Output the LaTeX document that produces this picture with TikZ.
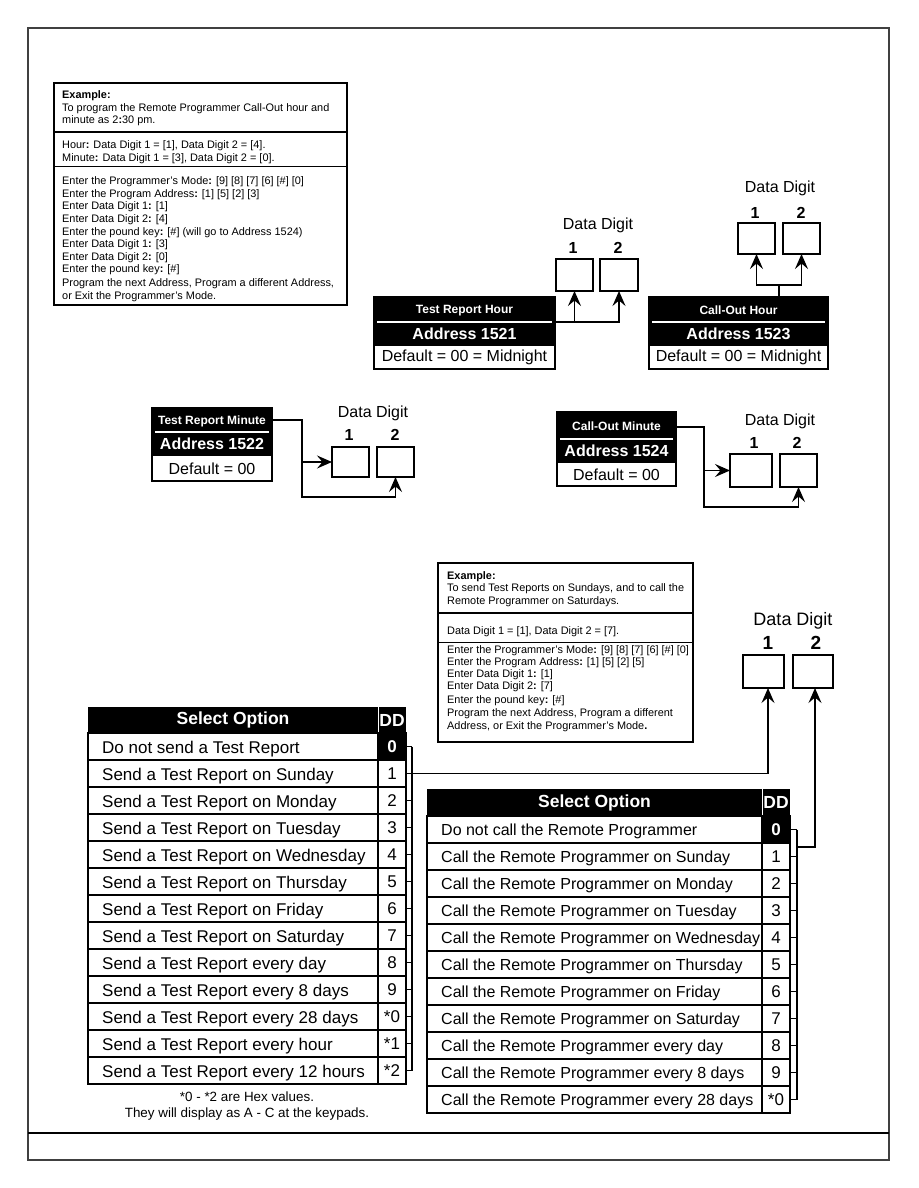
\documentclass[tikz,border=0pt]{standalone}
\usepackage{fontspec}
\setmainfont{Liberation Sans}
\usetikzlibrary{arrows.meta,positioning,calc}
\newcommand{\bc}{\textbf{:}}
\newcommand{\fsz}[1]{\fontsize{#1}{#1}\selectfont}
\tikzset{
  pageframe/.style={draw=black!75,line width=1.4pt},
  exframe/.style={draw,line width=1.1pt,anchor=north west,inner sep=0pt,outer sep=0pt},
  exline/.style={anchor=base west,inner sep=0pt,font=\fsz{10.9}},
  blkframe/.style={draw,line width=1.3pt,anchor=north west,inner sep=0pt,outer sep=0pt},
  blktitle/.style={text=white,inner sep=0pt,font=\fsz{12}\bfseries},
  blkaddr/.style={text=white,inner sep=0pt,font=\fsz{16}\bfseries},
  blkdef/.style={inner sep=0pt,font=\fsz{16}},
  digbox/.style={draw,line width=1.2pt,anchor=north west,minimum width=37pt,minimum height=31pt,inner sep=0pt,outer sep=0pt},
  diglab/.style={inner sep=0pt,font=\fsz{16}},
  dignum/.style={inner sep=0pt,font=\fsz{16}\bfseries},
  darr/.style={-{Stealth[length=15pt,width=13pt,inset=5.5pt]},line width=1.4pt},
  dline/.style={line width=1.4pt},
  cellbox/.style={draw,line width=1.3pt,minimum height=27pt,inner sep=0pt,outer sep=0pt,anchor=north west},
  ddcell/.style={cellbox,minimum width=28pt,font=\fsz{17}},
  ddzero/.style={cellbox,minimum width=28pt,fill=black,text=white,font=\fsz{17}\bfseries},
  hdcell/.style={fill=black,text=white,minimum height=26pt,inner sep=0pt,outer sep=0pt,anchor=north west,font=\fsz{17.5}\bfseries},
  rowtxt/.style={inner sep=0pt,anchor=base west}
}
\begin{document}
\begin{tikzpicture}[x=1pt,y=-1pt]
  \useasboundingbox (0,0) rectangle (918,1188);
  % page frame
  \draw[pageframe] (28,28) rectangle (889,1160);
  \draw[line width=1.2pt] (28,1133) -- (889,1133);

  % example: call-out hour and minute
  \node[exframe,minimum width=293pt,minimum height=222pt] (ex1) at (54,83) {};
  \draw[line width=2.4pt] ($(ex1.north west)+(0,49)$) -- ($(ex1.north east)+(0,49)$);
  \draw[line width=1pt] ($(ex1.north west)+(0,83)$) -- ($(ex1.north east)+(0,83)$);
  \foreach \yy/\ln [count=\k] in {99/{\textbf{Example:}},
    111.5/{To program the Remote Programmer Call-Out hour and},
    124/{minute as 2\bc30 pm.},
    149/{Hour\bc{} Data Digit 1 = [1], Data Digit 2 = [4].},
    161.5/{Minute\bc{} Data Digit 1 = [3], Data Digit 2 = [0].},
    184/{Enter the Programmer's Mode\bc{} [9] [8] [7] [6] [\#] [0]},
    197/{Enter the Program Address\bc{} [1] [5] [2] [3]},
    209.5/{Enter Data Digit 1\bc{} [1]},
    222/{Enter Data Digit 2\bc{} [4]},
    235/{Enter the pound key\bc{} [\#] (will go to Address 1524)},
    247.5/{Enter Data Digit 1\bc{} [3]},
    260/{Enter Data Digit 2\bc{} [0]},
    272.5/{Enter the pound key\bc{} [\#]},
    286/{Program the next Address, Program a different Address,},
    299.5/{or Exit the Programmer's Mode.}}{
    \node[exline] (exa\k) at (62,\yy) {\ln};
  }

  % address blocks
  \foreach \nm/\x/\y/\w/\h/\sep/\blk/\ttl/\adr/\dft in {
    trh/374/297/181/72/25/49/Test Report Hour/Address 1521/Default = 00 = Midnight,
    coh/649/297/179/72/25/49/Call-Out Hour/Address 1523/Default = 00 = Midnight,
    trm/152/408/120/73/24/48/Test Report Minute/Address 1522/Default = 00,
    com/557/412/119/74/27/51/Call-Out Minute/Address 1524/Default = 00}{
    \fill (\x,\y) rectangle ++(\w,\blk);
    \draw[white,line width=1.2pt] ($(\x,\y)+(3,\sep)$) -- ++({\w-6},0);
    \node[blkframe,minimum width=\w pt,minimum height=\h pt] (\nm) at (\x,\y) {};
    \node[blktitle] (\nm-t) at ($(\x,\y)+({\w/2},{\sep/2+1})$) {\ttl};
    \node[blkaddr] (\nm-a) at ($(\x,\y)+({\w/2},{(\sep+\blk)/2})$) {\adr};
    \node[blkdef] (\nm-d) at ($(\x,\y)+({\w/2},{(\blk+\h)/2})$) {\dft};
  }

  % data digit boxes
  \node[digbox,minimum height=32pt] (trh1) at (556,259) {};
  \node[digbox,minimum width=38pt,minimum height=32pt] (trh2) at (600,259) {};
  \node[diglab] (trh-l) at (598,225) {Data Digit};
  \node[dignum] (trh-n1) at (573,248) {1};
  \node[dignum] (trh-n2) at (618,248) {2};

  \node[digbox] (coh1) at (738,223) {};
  \node[digbox] (coh2) at (783,223) {};
  \node[diglab] (coh-l) at (780,188) {Data Digit};
  \node[dignum] (coh-n1) at (755,213) {1};
  \node[dignum] (coh-n2) at (801,213) {2};

  \node[digbox,minimum height=30pt] (trm1) at (332,447) {};
  \node[digbox,minimum height=30pt] (trm2) at (377,447) {};
  \node[diglab] (trm-l) at (373,413) {Data Digit};
  \node[dignum] (trm-n1) at (349,435) {1};
  \node[dignum] (trm-n2) at (395,435) {2};

  \node[digbox,minimum width=42pt,minimum height=33pt] (com1) at (730,454) {};
  \node[digbox,minimum height=33pt] (com2) at (780,454) {};
  \node[diglab] (com-l) at (780,421) {Data Digit};
  \node[dignum] (com-n1) at (754,443) {1};
  \node[dignum] (com-n2) at (797,443) {2};

  % block connectors
  \coordinate (trhj) at ($(trh.north east)+(0,25)$);
  \draw[darr] (trhj) -| (trh2.south);
  \draw[darr] (trhj -| trh1.south) -- (trh1.south);

  \coordinate (cohj) at ($(coh1.south)!.5!(coh2.south)+(0,31)$);
  \draw[dline] (cohj) -- (cohj |- coh.north);
  \draw[darr] (cohj) -| (coh1.south);
  \draw[darr] (cohj) -| (coh2.south);

  \coordinate (trmj) at ($(trm1.west)+(-30,0)$);
  \draw[darr] ($(trm.north east)+(0,12)$) -| (trmj) -- (trm1.west);
  \draw[darr] (trmj) |- ($(trm2.south)+(0,20)$) -- (trm2.south);

  \coordinate (comj) at ($(com1.west)+(-26,0)$);
  \draw[darr] ($(com.north east)+(0,15)$) -| (comj) -- (com1.west);
  \draw[darr] (comj) |- ($(com2.south)+(0,20)$) -- (com2.south);

  % example: test report and call days
  \node[exframe,minimum width=255pt,minimum height=179pt] (ex2) at (438,563) {};
  \draw[line width=2.4pt] ($(ex2.north west)+(0,50)$) -- ($(ex2.north east)+(0,50)$);
  \draw[line width=1pt] ($(ex2.north west)+(0,79)$) -- ($(ex2.north east)+(0,79)$);
  \foreach \yy/\ln [count=\k] in {579/{\textbf{Example:}},
    591.5/{To send Test Reports on Sundays, and to call the},
    604/{Remote Programmer on Saturdays.},
    634/{Data Digit 1 = [1], Data Digit 2 = [7].},
    653/{Enter the Programmer's Mode\bc{} [9] [8] [7] [6] [\#] [0]},
    665/{Enter the Program Address\bc{} [1] [5] [2] [5]},
    677/{Enter Data Digit 1\bc{} [1]},
    689.5/{Enter Data Digit 2\bc{} [7]},
    703/{Enter the pound key\bc{} [\#]},
    716/{Program the next Address, Program a different},
    729/{Address, or Exit the Programmer's Mode\textbf{.}}}{
    \node[exline] (exb\k) at (447,\yy) {\ln};
  }

  % shared data digit boxes
  \node[digbox,minimum width=41pt,minimum height=33pt] (dd1) at (743,655) {};
  \node[digbox,minimum width=40pt,minimum height=33pt] (dd2) at (793,655) {};
  \node[diglab,font=\fsz{18}] (dd-l) at (793,621) {Data Digit};
  \node[dignum,font=\fsz{19}\bfseries] (dd-n1) at (768,643) {1};
  \node[dignum,font=\fsz{19}\bfseries] (dd-n2) at (816,643) {2};

  % test report table
  \node[hdcell,minimum width=290pt] (lsel) at (88,707) {Select Option};
  \node[hdcell,minimum width=28pt] (lddh) at (378,707) {DD};
  \draw[white,line width=1pt] (lddh.north west) -- (lddh.south west);
  \foreach \txt/\dd/\sty [count=\i from 0] in {
    Do not send a Test Report/0/ddzero,
    Send a Test Report on Sunday/1/ddcell,
    Send a Test Report on Monday/2/ddcell,
    Send a Test Report on Tuesday/3/ddcell,
    Send a Test Report on Wednesday/4/ddcell,
    Send a Test Report on Thursday/5/ddcell,
    Send a Test Report on Friday/6/ddcell,
    Send a Test Report on Saturday/7/ddcell,
    Send a Test Report every day/8/ddcell,
    Send a Test Report every 8 days/9/ddcell,
    Send a Test Report every 28 days/*0/ddcell,
    Send a Test Report every hour/*1/ddcell,
    Send a Test Report every 12 hours/*2/ddcell}{
    \node[cellbox,minimum width=290pt] (lc\i) at (88,{733+27*\i}) {};
    \node[rowtxt,font=\fsz{17}] (lt\i) at ($(lc\i.west)+(14,6.5)$) {\txt};
    \node[\sty] (ld\i) at (lc\i.north east) {\dd};
  }
  \coordinate (lbt) at ($(ld0.east)+(6,0)$);
  \coordinate (lbb) at ($(ld12.east)+(6,0)$);
  \draw[dline] (lbt) -- (lbb);
  \foreach \i in {0,...,12}
    \draw[dline] (ld\i.east) -- (ld\i.east -| lbt);
  \draw[darr] (ld1.east -| lbt) -| ($(dd1.south)+(4.5,0)$);

  \node[font=\fsz{13.4},inner sep=0pt] (hex1) at (247,1097) {*0 - *2 are Hex values.};
  \node[font=\fsz{13.4},inner sep=0pt] (hex2) at (247,1114) {They will display as A - C at the keypads.};

  % call-out table
  \node[hdcell,minimum width=335pt,minimum height=27pt] (rsel) at (427,789) {Select Option};
  \node[hdcell,minimum width=28pt,minimum height=27pt] (rddh) at (762,789) {DD};
  \draw[white,line width=1pt] (rddh.north west) -- (rddh.south west);
  \foreach \txt/\dd/\sty [count=\i from 0] in {
    Do not call the Remote Programmer/0/ddzero,
    Call the Remote Programmer on Sunday/1/ddcell,
    Call the Remote Programmer on Monday/2/ddcell,
    Call the Remote Programmer on Tuesday/3/ddcell,
    Call the Remote Programmer on Wednesday/4/ddcell,
    Call the Remote Programmer on Thursday/5/ddcell,
    Call the Remote Programmer on Friday/6/ddcell,
    Call the Remote Programmer on Saturday/7/ddcell,
    Call the Remote Programmer every day/8/ddcell,
    Call the Remote Programmer every 8 days/9/ddcell,
    Call the Remote Programmer every 28 days/*0/ddcell}{
    \node[cellbox,minimum width=335pt] (rc\i) at (427,{816+27*\i}) {};
    \node[rowtxt,font=\fsz{16}] (rt\i) at ($(rc\i.west)+(14,6)$) {\txt};
    \node[\sty] (rd\i) at (rc\i.north east) {\dd};
  }
  \coordinate (rbt) at ($(rd0.east)+(7,0)$);
  \coordinate (rbb) at ($(rd10.east)+(7,0)$);
  \draw[dline] (rbt) -- (rbb);
  \foreach \i in {0,...,10}
    \draw[dline] (rd\i.east) -- (rd\i.east -| rbt);
  \coordinate (rbj) at ($(rd0.south east)+(7,4)$);
  \draw[darr] (rbj) -| ($(dd2.south)+(2,0)$);
\end{tikzpicture}
\end{document}
